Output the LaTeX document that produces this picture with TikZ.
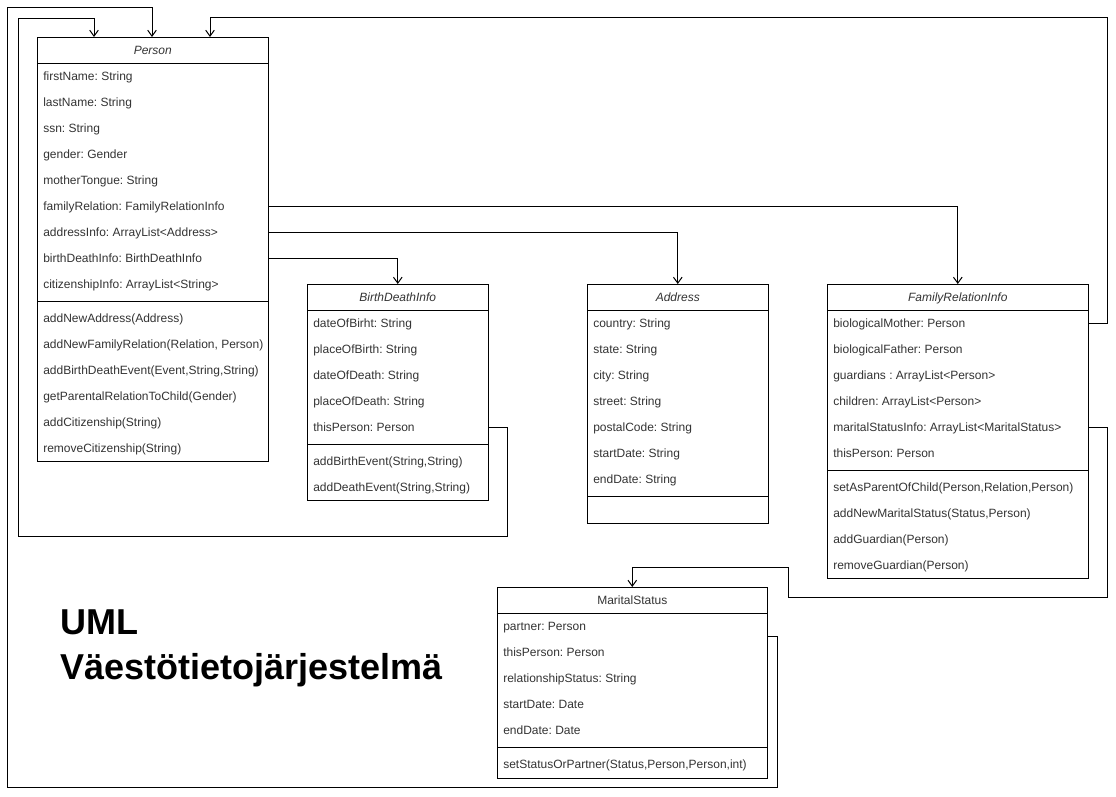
\documentclass[tikz,border=0pt]{standalone}
\usepackage{fontspec}
\setmainfont{Liberation Sans}
\usetikzlibrary{arrows.meta,calc}
\definecolor{txt}{HTML}{333333}
\frenchspacing
\tikzset{
 x=0.75pt, y=-0.75pt,
 box/.style={draw=black, line width=0.75pt},
 hdr/.style={inner sep=0pt, minimum height=19.5pt, text height=7.6pt, text depth=0.9pt, text=txt, font=\fontsize{9pt}{10.8pt}\selectfont},
 row/.style={inner xsep=4.5pt, inner ysep=0pt, minimum height=19.5pt, text height=7.6pt, text depth=0.9pt, text=txt, font=\fontsize{9pt}{10.8pt}\selectfont},
 link/.style={draw=black, line width=0.75pt, -{Straight Barb[length=4.5pt,width=6.5pt]}},
 ttl/.style={anchor=base west, inner sep=0pt, text=black, font=\fontsize{27pt}{32pt}\selectfont\bfseries},
}
\newcommand\umlclass[9]{%
  \pgfmathsetlengthmacro\bw{#4*0.75pt}%
  \pgfmathsetlengthmacro\tw{(#4-12)*0.75pt}%
  \draw[box] (#2,#3) rectangle ++(#4,#5);
  \node[hdr, minimum width=\bw, anchor=north west] (#1-h) at (#2,#3) {#6};
  \draw[box] (#1-h.south west) -- (#1-h.south east);
  \foreach \t [count=\i] in {#8} {\node[row, anchor=north west] (#1-a\i) at (#2, {#3+26*\i}) {\makebox[\tw][l]{\t}};}
  \draw[box] (#2,{#3+26+26*#7+4}) -- ++(#4,0);
  \if\relax\detokenize{#9}\relax\else
  \foreach \t [count=\i] in {#9} {\node[row, anchor=north west] (#1-m\i) at (#2, {#3+26+26*#7+8+26*(\i-1)}) {\makebox[\tw][l]{\t}};}
  \fi
}
\begin{document}
\begin{tikzpicture}
\useasboundingbox (0,0) rectangle (1116,796);

\umlclass{P}{37}{37}{231}{424}{\textit{Person}}{9}%
 {firstName: String, lastName: String, ssn: String, gender: Gender, motherTongue: String, familyRelation: FamilyRelationInfo, addressInfo: ArrayList<Address>, birthDeathInfo: BirthDeathInfo, citizenshipInfo: ArrayList<String>}%
 {addNewAddress(Address), {addNewFamilyRelation(Relation, Person)}, {addBirthDeathEvent(Event,String,String)}, getParentalRelationToChild(Gender), addCitizenship(String), removeCitizenship(String)}

\umlclass{B}{307}{284}{181}{216}{\textit{BirthDeathInfo}}{5}%
 {dateOfBirht: String, placeOfBirth: String, dateOfDeath: String, placeOfDeath: String, thisPerson: Person}%
 {{addBirthEvent(String,String)}, {addDeathEvent(String,String)}}

\umlclass{A}{587}{284}{181}{239}{\textit{Address}}{7}%
 {country: String, state: String, city: String, street: String, postalCode: String, startDate: String, endDate: String}%
 {}

\umlclass{F}{827}{284}{261}{294}{\textit{FamilyRelationInfo}}{6}%
 {biologicalMother: Person, biologicalFather: Person, guardians : ArrayList<Person>, children: ArrayList<Person>, maritalStatusInfo: ArrayList<MaritalStatus>, thisPerson: Person}%
 {{setAsParentOfChild(Person,Relation,Person)}, {addNewMaritalStatus(Status,Person)}, addGuardian(Person), removeGuardian(Person)}

\umlclass{M}{497}{587}{270}{191}{MaritalStatus}{5}%
 {partner: Person, thisPerson: Person, relationshipStatus: String, startDate: Date, endDate: Date}%
 {{setStatusOrPartner(Status,Person,Person,int)}}

\node[ttl] (t1) at (60,634) {UML};
\node[ttl] (t2) at (60,679) {Väestötietojärjestelmä};

\draw[link] (B-a5.east) -| (507,536) -| (18,18) -| ($(P-h.north west)+(57,0)$);
\draw[link] ([yshift=-7.5pt]M-a1.east) -| (777,787) -| (7,7) -| ($(P-h.north west)+(115,0)$);
\draw[link] (F-a1.east) -| (1107,17) -| ($(P-h.north west)+(173,0)$);
\draw[link] (F-a5.east) -| (1107,597) -| (788,567) -| (M-h.north);
\draw[link] (P-a6.east) -| (F-h.north);
\draw[link] (P-a7.east) -| (A-h.north);
\draw[link] (P-a8.east) -| (B-h.north);
\end{tikzpicture}
\end{document}
